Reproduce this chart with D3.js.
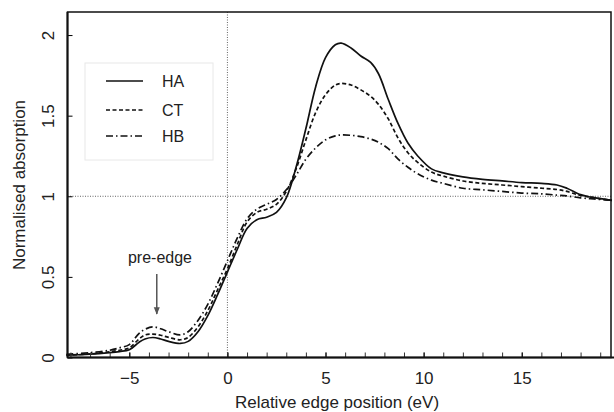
<!DOCTYPE html>
<html>
<head>
<meta charset="utf-8">
<script src="https://cdn.jsdelivr.net/npm/d3@7"></script>
<style>
  body { margin: 0; background: #fff; }
  svg { font-family: "Liberation Sans", Arial, sans-serif; }
</style>
</head>
<body>
<svg id="chart" width="614" height="412"></svg>
<script>
// energy grid (eV, relative to edge) and read-off absorption values
const energy = [-8.2, -7, -6, -5.5, -5, -4.5, -4.2, -3.8, -3.4, -3, -2.4, -2, -1.5, -1, -0.5, 0, 0.5, 1, 1.5, 2, 2.5, 3, 3.5, 4, 4.5, 5, 5.5, 5.8, 6.3, 6.8, 7.3, 7.7, 8.2, 8.7, 9.2, 9.7, 10.4, 11, 12, 13, 14, 15, 16, 16.8, 17.3, 18, 18.5, 19, 19.6]
const ha = [0.015, 0.02, 0.03, 0.037, 0.048, 0.095, 0.115, 0.124, 0.115, 0.1, 0.087, 0.1, 0.16, 0.26, 0.39, 0.53, 0.67, 0.8, 0.855, 0.87, 0.9, 0.99, 1.18, 1.42, 1.68, 1.86, 1.94, 1.95, 1.92, 1.87, 1.83, 1.76, 1.6, 1.45, 1.33, 1.25, 1.17, 1.145, 1.12, 1.105, 1.095, 1.085, 1.08, 1.07, 1.05, 1.01, 0.995, 0.985, 0.975]
const ct = [0.015, 0.022, 0.035, 0.045, 0.06, 0.115, 0.14, 0.145, 0.138, 0.125, 0.11, 0.125, 0.19, 0.29, 0.42, 0.55, 0.7, 0.84, 0.9, 0.92, 0.95, 1.03, 1.17, 1.35, 1.52, 1.63, 1.69, 1.70, 1.69, 1.66, 1.62, 1.57, 1.48, 1.36, 1.27, 1.21, 1.15, 1.125, 1.095, 1.08, 1.07, 1.06, 1.05, 1.042, 1.03, 1.005, 0.995, 0.985, 0.975]
const hb = [0.02, 0.03, 0.045, 0.06, 0.08, 0.15, 0.175, 0.19, 0.178, 0.16, 0.14, 0.16, 0.23, 0.33, 0.46, 0.6, 0.74, 0.86, 0.92, 0.95, 0.98, 1.04, 1.13, 1.23, 1.3, 1.35, 1.375, 1.38, 1.378, 1.37, 1.355, 1.335, 1.295, 1.23, 1.18, 1.14, 1.1, 1.08, 1.05, 1.04, 1.03, 1.02, 1.015, 1.007, 1.002, 0.99, 0.985, 0.98, 0.975]

const seriesNames = ["HA", "CT", "HB"]
const seriesValues = [ha, ct, hb]
const dashes = ["none", "4,2.5", "7,3,1.5,3"]

const xMajor = [-5, 0, 5, 10, 15]
const xMinor = d3.range(-8, 20, 1)
const yMajor = [0, 0.5, 1, 1.5, 2]

const svg = d3.select("#chart")
const m = {left: 67.5, right: 611, top: 12, bottom: 357.5}

const x = d3.scaleLinear().domain([-8.15, 19.55]).range([m.left, m.right])
const y = d3.scaleLinear().domain([0, 2.143]).range([m.bottom, m.top])

// dotted reference lines
svg.append("line")
    .attr("x1", m.left).attr("x2", m.right)
    .attr("y1", y(1)).attr("y2", y(1))
    .attr("stroke", "#666").attr("stroke-width", 1).attr("stroke-dasharray", "1,1.5")
svg.append("line")
    .attr("x1", x(0)).attr("x2", x(0))
    .attr("y1", m.top).attr("y2", m.bottom)
    .attr("stroke", "#666").attr("stroke-width", 1).attr("stroke-dasharray", "1,1.5")

// legend box
svg.append("rect")
    .attr("x", 85).attr("y", 63).attr("width", 128).attr("height", 97)
    .attr("fill", "none").attr("stroke", "#e8e8e8").attr("stroke-width", 1)

// curves
const line = d3.line().curve(d3.curveCatmullRom.alpha(0.5))
seriesValues.forEach(function(vals, i) {
    svg.append("path")
        .datum(energy.map(function(e, j) { return [x(e), y(vals[j])] }))
        .attr("d", line)
        .attr("fill", "none")
        .attr("stroke", "#111")
        .attr("stroke-width", 1.7)
        .attr("stroke-dasharray", dashes[i])
})

// axes, ticks inward
const xAxisMinor = d3.axisBottom(x).tickValues(xMinor).tickSize(-5).tickFormat("")
const xAxis = d3.axisBottom(x).tickValues(xMajor).tickSize(-5).tickPadding(14).tickFormat(d3.format("d"))
const yAxis = d3.axisLeft(y).tickValues(yMajor).tickSize(-5).tickFormat(function(d) { return d })

svg.append("g").attr("transform", `translate(0,${m.bottom})`).call(xAxisMinor)
    .call(g => g.select(".domain").remove())
    .selectAll("line").attr("stroke", "#333")
const gx = svg.append("g").attr("transform", `translate(0,${m.bottom})`).call(xAxis)
gx.select(".domain").remove()
gx.selectAll("text").attr("font-size", 17).attr("fill", "#222")

const gy = svg.append("g").attr("transform", `translate(${m.left},0)`).call(yAxis)
gy.select(".domain").remove()
gy.selectAll("text")
    .attr("font-size", 17).attr("fill", "#222")
    .attr("x", 0).attr("y", 0).attr("dy", "0.35em")
    .attr("text-anchor", "middle")
    .attr("transform", "translate(-19,0) rotate(-90)")

// frame
svg.append("rect")
    .attr("x", m.left).attr("y", m.top)
    .attr("width", m.right - m.left).attr("height", m.bottom - m.top)
    .attr("fill", "none").attr("stroke", "#111").attr("stroke-width", 1.5)
svg.append("line")
    .attr("x1", m.left).attr("x2", 614).attr("y1", m.bottom).attr("y2", m.bottom)
    .attr("stroke", "#111").attr("stroke-width", 2)
svg.append("line")
    .attr("x1", m.left).attr("x2", m.left).attr("y1", m.top).attr("y2", m.bottom)
    .attr("stroke", "#111").attr("stroke-width", 2)

// legend entries
seriesNames.forEach(function(name, i) {
    const ly = [81, 110, 136][i]
    svg.append("line")
        .attr("x1", 106).attr("x2", 143).attr("y1", ly).attr("y2", ly)
        .attr("stroke", "#111").attr("stroke-width", 1.5)
        .attr("stroke-dasharray", dashes[i])
    svg.append("text")
        .attr("x", 162).attr("y", ly).attr("dy", "0.35em")
        .attr("font-size", 16).attr("fill", "#222")
        .text(name)
})

// pre-edge annotation
svg.append("defs").append("marker")
    .attr("id", "arrow").attr("viewBox", "0 0 10 10")
    .attr("refX", 9).attr("refY", 5)
    .attr("markerWidth", 5).attr("markerHeight", 5)
    .attr("orient", "auto")
    .append("path").attr("d", "M0,1 L10,5 L0,9 Z").attr("fill", "#555")
svg.append("line")
    .attr("x1", x(-3.6)).attr("x2", x(-3.6)).attr("y1", 274).attr("y2", 314)
    .attr("stroke", "#555").attr("stroke-width", 1.5)
    .attr("marker-end", "url(#arrow)")
svg.append("text")
    .attr("x", 160).attr("y", 257).attr("dy", "0.35em")
    .attr("text-anchor", "middle").attr("font-size", 16).attr("fill", "#222")
    .text("pre-edge")

// axis titles
svg.append("text")
    .attr("x", 337).attr("y", 402).attr("dy", "0.35em")
    .attr("text-anchor", "middle").attr("font-size", 17).attr("fill", "#222")
    .text("Relative edge position (eV)")
svg.append("text")
    .attr("transform", "translate(19,185) rotate(-90)")
    .attr("dy", "0.35em")
    .attr("text-anchor", "middle").attr("font-size", 17).attr("fill", "#222")
    .text("Normalised absorption")
</script>
</body>
</html>
